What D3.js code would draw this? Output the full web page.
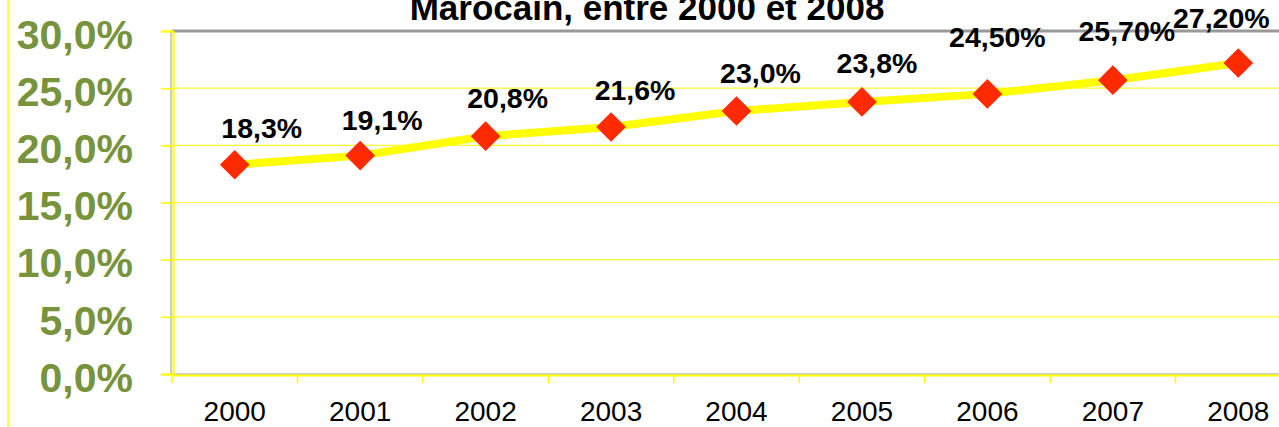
<!DOCTYPE html>
<html>
<head>
<meta charset="utf-8">
<script src="https://cdn.jsdelivr.net/npm/d3@7"></script>
<style>
  body { margin: 0; background: #fff; }
  svg { display: block; font-family: "Liberation Sans", Arial, sans-serif; }
</style>
</head>
<body>
<div id="chart"></div>
<script>
// Data
const years = ["2000", "2001", "2002", "2003", "2004", "2005", "2006", "2007", "2008"];
const rates = [18.3, 19.1, 20.8, 21.6, 23.0, 23.8, 24.5, 25.7, 27.2];
const rateLabels = ["18,3%", "19,1%", "20,8%", "21,6%", "23,0%", "23,8%", "24,50%", "25,70%", "27,20%"];
const yTicks = [0, 5, 10, 15, 20, 25, 30];
const yTickLabels = ["0,0%", "5,0%", "10,0%", "15,0%", "20,0%", "25,0%", "30,0%"];
const titleText = "Marocain, entre 2000 et 2008";

// label nudges (px) relative to each marker, as placed in the original
const labelDx = [27, 22, 22, 24, 24, 15, 10, 14, -17];
const labelDy = [-27, -26, -28, -27, -28, -29, -47, -39, -35];

const W = 1279, H = 427;
const plot = {left: 172, right: 1301, top: 31, bottom: 374};

const svg = d3.select("#chart").append("svg")
    .attr("width", W)
    .attr("height", H);

// scales
const x = d3.scaleBand()
    .domain(years)
    .range([plot.left, plot.right])
    .padding(0);

const y = d3.scaleLinear()
    .domain([0, 30])
    .range([plot.bottom, plot.top]);

// chart area left border
svg.append("line")
    .attr("x1", 8).attr("x2", 8)
    .attr("y1", 0).attr("y2", H)
    .attr("stroke", "#ffff00")
    .attr("stroke-width", 1.5);

// gridlines
svg.append("g")
    .selectAll("line")
    .data(yTicks.slice(1))
    .join("line")
    .attr("x1", plot.left).attr("x2", plot.right)
    .attr("y1", d => y(d)).attr("y2", d => y(d))
    .attr("stroke", "#ffff30")
    .attr("stroke-width", 1.2);

// plot area border
svg.append("rect")
    .attr("x", plot.left - 1)
    .attr("y", plot.top)
    .attr("width", plot.right - plot.left)
    .attr("height", plot.bottom - plot.top)
    .attr("fill", "none")
    .attr("stroke", "#999")
    .attr("stroke-width", 1);

svg.append("line")
    .attr("x1", plot.left).attr("x2", plot.right)
    .attr("y1", plot.top).attr("y2", plot.top)
    .attr("stroke", "#999")
    .attr("stroke-width", 3);

// y axis
const yAxis = svg.append("g")
    .attr("transform", `translate(${plot.left + 1},0)`)
    .call(d3.axisLeft(y).tickValues(yTicks).tickSize(12).tickPadding(28)
        .tickFormat((d, i) => yTickLabels[i]));
yAxis.select(".domain").attr("stroke", "#ffff00").attr("stroke-width", 2);
yAxis.selectAll(".tick line").attr("stroke", "#ffff00").attr("stroke-width", 1.5);
yAxis.selectAll(".tick text")
    .attr("fill", "#77933c")
    .attr("font-size", 41)
    .attr("font-weight", "bold")
    .attr("dy", "0.42em");

// x axis
const xAxis = svg.append("g")
    .attr("transform", `translate(0,${plot.bottom + 1})`)
    .call(d3.axisBottom(x).tickSize(0).tickPadding(26));
xAxis.select(".domain").attr("stroke", "#ffff00").attr("stroke-width", 2);
xAxis.selectAll(".tick text")
    .attr("fill", "#000")
    .attr("font-size", 28);

// category separator ticks
xAxis.append("g")
    .selectAll("line")
    .data(years)
    .join("line")
    .attr("x1", d => x(d)).attr("x2", d => x(d))
    .attr("y1", 0).attr("y2", 8)
    .attr("stroke", "#ffff00")
    .attr("stroke-width", 1.5);

// line
const line = d3.line()
    .x((d, i) => x(years[i]) + x.bandwidth() / 2)
    .y(d => y(d));

svg.append("path")
    .datum(rates)
    .attr("d", line)
    .attr("fill", "none")
    .attr("stroke", "#ffff00")
    .attr("stroke-width", 8)
    .attr("stroke-linejoin", "round");

// diamond markers
const diamond = d3.symbol().type(d3.symbolSquare).size(440);
svg.append("g")
    .selectAll("path")
    .data(rates)
    .join("path")
    .attr("d", diamond)
    .attr("transform", (d, i) => `translate(${x(years[i]) + x.bandwidth() / 2},${y(d)}) rotate(45)`)
    .attr("fill", "#ff2a00");

// data labels
svg.append("g")
    .selectAll("text")
    .data(rates)
    .join("text")
    .attr("x", (d, i) => x(years[i]) + x.bandwidth() / 2 + labelDx[i])
    .attr("y", (d, i) => y(d) + labelDy[i])
    .attr("text-anchor", "middle")
    .attr("font-size", 28.5)
    .attr("font-weight", "bold")
    .attr("fill", "#000")
    .text((d, i) => rateLabels[i]);

// title (its upper part is cut off in the original)
svg.append("text")
    .attr("x", 647)
    .attr("y", 20)
    .attr("text-anchor", "middle")
    .attr("font-size", 35)
    .attr("font-weight", "bold")
    .attr("fill", "#000")
    .text(titleText);
</script>
</body>
</html>
